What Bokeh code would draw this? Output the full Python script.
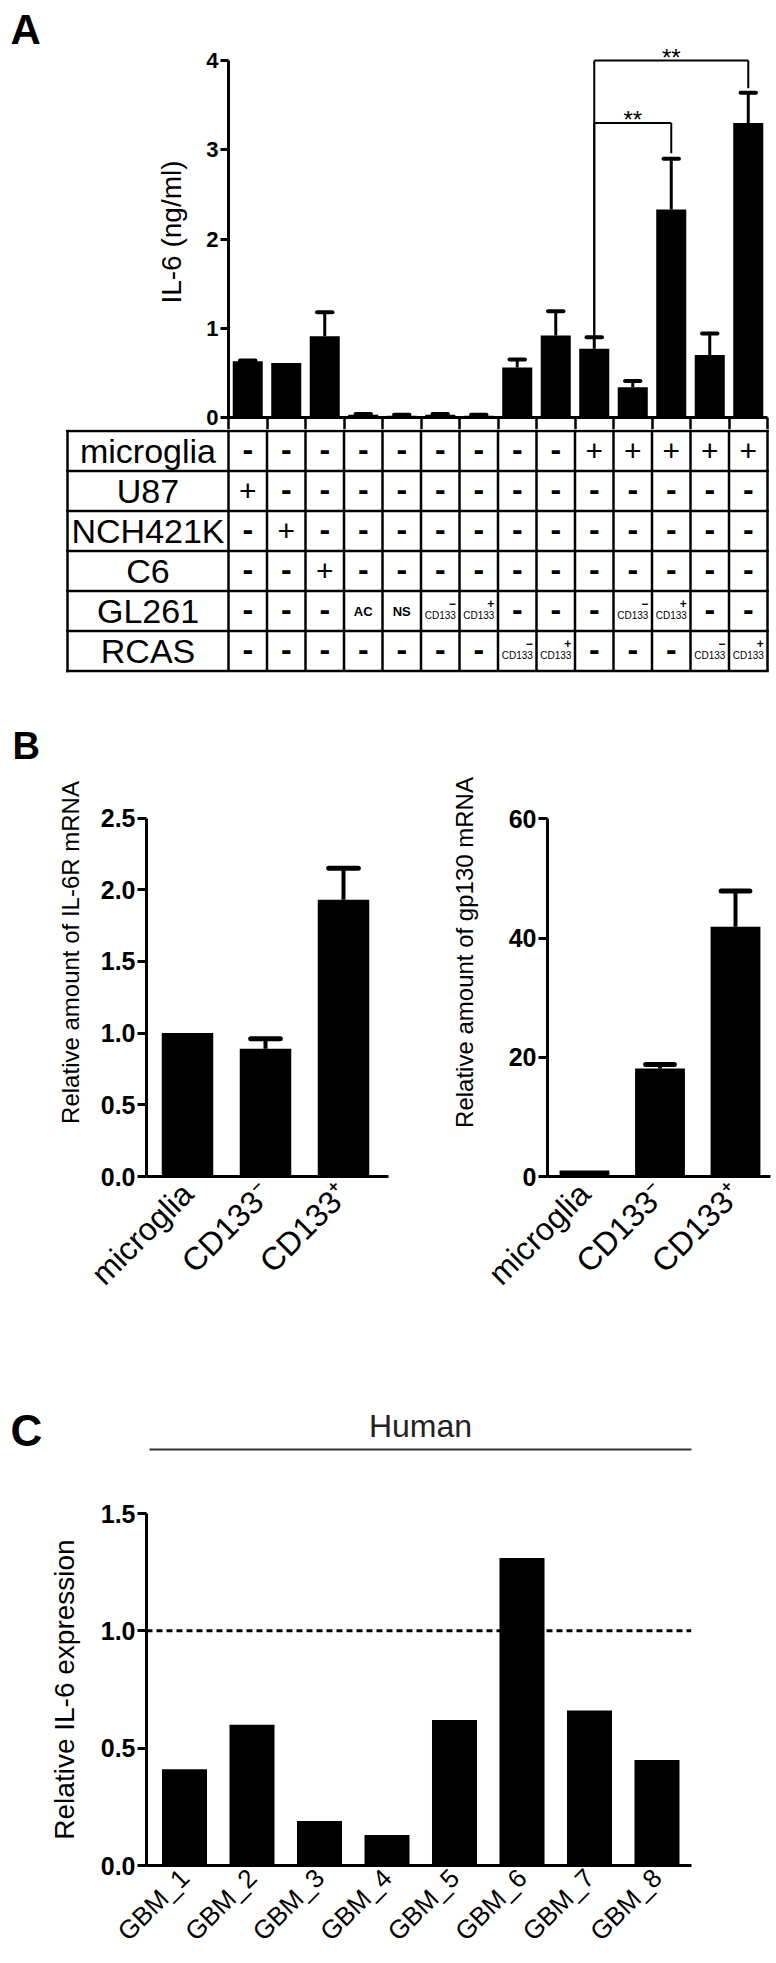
import math
from bokeh.plotting import figure
from bokeh.models import Range1d, FixedTicker, NumeralTickFormatter, Span
from bokeh.layouts import column, row
from bokeh.embed import file_html
from bokeh.resources import INLINE
from bokeh.core.properties import value

FONT = "Liberation Sans"

# ---------------- data ----------------
# Panel A : IL-6 (ng/ml), 14 culture conditions
a_il6 = [0.63, 0.61, 0.91, 0.03, 0.02, 0.03, 0.02, 0.56, 0.92, 0.77, 0.34, 2.33, 0.70, 3.30]
a_err = [0.01, 0.0, 0.27, 0.01, 0.01, 0.01, 0.01, 0.09, 0.27, 0.13, 0.07, 0.57, 0.24, 0.34]
a_ticks = [0, 1, 2, 3, 4]
table_rows = ["microglia", "U87", "NCH421K", "C6", "GL261", "RCAS"]
row_microglia = ["-", "-", "-", "-", "-", "-", "-", "-", "-", "+", "+", "+", "+", "+"]
row_u87 = ["+", "-", "-", "-", "-", "-", "-", "-", "-", "-", "-", "-", "-", "-"]
row_nch421k = ["-", "+", "-", "-", "-", "-", "-", "-", "-", "-", "-", "-", "-", "-"]
row_c6 = ["-", "-", "+", "-", "-", "-", "-", "-", "-", "-", "-", "-", "-", "-"]
row_gl261 = ["-", "-", "-", "AC", "NS", "CD133-", "CD133+", "-", "-", "-", "CD133-", "CD133+", "-", "-"]
row_rcas = ["-", "-", "-", "-", "-", "-", "-", "CD133-", "CD133+", "-", "-", "-", "CD133-", "CD133+"]
sig_from = [9, 9]
sig_to = [11, 13]
sig_level = [3.30, 4.0]
sig_drop = [2.96, 3.69]
sig_text = ["**", "**"]

# Panel B
b_cats = ["microglia", "CD133\u207b", "CD133\u207a"]
b_il6r = [1.0, 0.89, 1.93]
b_il6r_err = [0.0, 0.07, 0.22]
b_il6r_ticks = [0.0, 0.5, 1.0, 1.5, 2.0, 2.5]
b_gp130 = [1.0, 18.1, 41.9]
b_gp130_err = [0.0, 0.7, 6.0]
b_gp130_ticks = [0, 20, 40, 60]

# Panel C
c_samples = ["GBM_1", "GBM_2", "GBM_3", "GBM_4", "GBM_5", "GBM_6", "GBM_7", "GBM_8"]
c_il6 = [0.41, 0.60, 0.19, 0.13, 0.62, 1.31, 0.66, 0.45]
c_ref = 1.0
c_ticks = [0.0, 0.5, 1.0, 1.5]


# ---------------- helpers ----------------
def base_fig(width, height, xr, yr, left, right, top, bottom, axes=True):
    kw = {}
    if not axes:
        kw = dict(x_axis_location=None, y_axis_location=None)
    p = figure(width=width, height=height, x_range=xr, y_range=yr,
               output_backend="svg", toolbar_location=None,
               min_border_left=left, min_border_right=right,
               min_border_top=top, min_border_bottom=bottom, **kw)
    p.outline_line_color = None
    p.grid.visible = False
    p.background_fill_color = "white"
    p.border_fill_color = "white"
    return p


def letter_fig(width, height, letter, x, y_center_from_top, size):
    p = base_fig(width, height, Range1d(0, width), Range1d(0, height), 0, 0, 0, 0, axes=False)
    p.text(x=[x], y=[height - y_center_from_top], text=[letter], text_font=value(FONT),
           text_font_style="bold", text_font_size=size, text_align="left",
           text_baseline="middle", text_color="black")
    return p


def style_axis(ax, tick_size, tick_out, label_size=None, label_standoff=10):
    ax.axis_line_width = 3
    ax.axis_line_color = "black"
    ax.major_tick_line_width = 3
    ax.major_tick_line_color = "black"
    ax.major_tick_out = tick_out
    ax.major_tick_in = 0
    ax.minor_tick_line_color = None
    ax.major_label_text_font = FONT
    ax.major_label_text_font_style = "bold"
    ax.major_label_text_font_size = tick_size
    ax.major_label_text_color = "black"
    ax.major_label_standoff = 2
    ax.axis_label_text_font = FONT
    ax.axis_label_text_font_style = "normal"
    ax.axis_label_text_color = "black"
    if label_size:
        ax.axis_label_text_font_size = label_size
    ax.axis_label_standoff = label_standoff


def error_bars(p, xs, vals, errs, cap_half, stem_w, cap_w):
    sel = [i for i, e in enumerate(errs) if e > 0]
    x = [xs[i] for i in sel]
    lo = [vals[i] for i in sel]
    hi = [vals[i] + errs[i] for i in sel]
    p.segment(x0=x, y0=lo, x1=x, y1=hi, line_color="black", line_width=stem_w)
    p.segment(x0=[v - cap_half for v in x], y0=hi, x1=[v + cap_half for v in x], y1=hi,
              line_color="black", line_width=cap_w, line_cap="round")


W = 774

# ---------------- Panel A : bar chart ----------------
A_PX, A_PY = 38.5, 89.25
n_a = len(a_il6)
figAL = letter_fig(48, 429, "A", 10, 29, "42px")
figA = base_fig(W - 48, 429, Range1d(0, n_a), Range1d(0, 371 / A_PY), 180, 7, 46, 12)
a_x = [i + 0.5 for i in range(n_a)]
figA.vbar(x=a_x, width=0.78, top=a_il6, bottom=0, fill_color="black", line_color=None)
error_bars(figA, a_x, a_il6, a_err, 0.2, 3, 4)

a_top = [v + e for v, e in zip(a_il6, a_err)]
for f, t, lev, drop, txt in zip(sig_from, sig_to, sig_level, sig_drop, sig_text):
    figA.segment(x0=[a_x[f], a_x[f], a_x[t]], y0=[a_top[f], lev, lev],
                 x1=[a_x[f], a_x[t], a_x[t]], y1=[lev, lev, drop],
                 line_color="black", line_width=2)
    figA.text(x=[(a_x[f] + a_x[t]) / 2], y=[lev + 3.5 / A_PY], text=[txt],
              text_align="center", text_baseline="middle",
              text_font=value(FONT), text_font_size="24px", text_color="black")

style_axis(figA.yaxis[0], "22px", 8, "28px", 16)
figA.yaxis.ticker = FixedTicker(ticks=a_ticks)
figA.yaxis.bounds = (a_ticks[0], a_ticks[-1])
figA.yaxis.axis_label = "IL-6 (ng/ml)"
xa = figA.xaxis[0]
xa.axis_line_width = 3
xa.axis_line_color = "black"
xa.ticker = FixedTicker(ticks=[], minor_ticks=list(range(n_a + 1)))
xa.major_tick_out = 0
xa.major_tick_in = 0
xa.major_tick_line_color = None
xa.minor_tick_out = 12
xa.minor_tick_in = 0
xa.minor_tick_line_color = "black"
xa.minor_tick_line_width = 2.5
xa.major_label_standoff = 0

# ---------------- Panel A : condition table ----------------
cells = [row_microglia, row_u87, row_nch421k, row_c6, row_gl261, row_rcas]
n_r = len(table_rows)
lab_left = -161 / A_PX
T_TOP = n_r + 1.5 / 40
figT = base_fig(W, 263, Range1d(-228 / A_PX, (W - 228) / A_PX),
                Range1d(T_TOP - 263 / 40, T_TOP), 0, 0, 0, 0, axes=False)
figT.segment(x0=[lab_left] * (n_r + 1), y0=list(range(n_r + 1)),
             x1=[n_a] * (n_r + 1), y1=list(range(n_r + 1)),
             line_color="black", line_width=2.5, line_cap="square")
figT.segment(x0=list(range(n_a + 1)), y0=[0] * (n_a + 1),
             x1=list(range(n_a + 1)), y1=[T_TOP] * (n_a + 1),
             line_color="black", line_width=2.5)
figT.segment(x0=[lab_left], y0=[0], x1=[lab_left], y1=[n_r],
             line_color="black", line_width=2.5, line_cap="square")

figT.text(x=[lab_left / 2] * n_r, y=[n_r - r - 0.5 for r in range(n_r)], text=table_rows,
          text_font=value(FONT), text_font_size="34px", text_align="center",
          text_baseline="middle", text_color="black")

plus_x, plus_y, dash_x, dash_y = [], [], [], []
sm_x, sm_y, sm_t = [], [], []
cd_x, cd_y, sup_x, sup_y, sup_t = [], [], [], [], []
for r, cr in enumerate(cells):
    yc = n_r - r - 0.5
    for c, t in enumerate(cr):
        xc = c + 0.5
        if t == "+":
            plus_x.append(xc); plus_y.append(yc)
        elif t == "-":
            dash_x.append(xc); dash_y.append(yc + 0.06)
        elif t.startswith("CD133"):
            cd_x.append(xc); cd_y.append(yc - 0.1)
            sup_x.append(xc + 0.31); sup_y.append(yc + 0.2)
            sup_t.append("\u2212" if t.endswith("-") else "+")
        else:
            sm_x.append(xc); sm_y.append(yc); sm_t.append(t)

figT.text(x=plus_x, y=plus_y, text=["+"] * len(plus_x), text_font=value(FONT),
          text_font_size="30px", text_align="center", text_baseline="middle", text_color="black")
figT.text(x=dash_x, y=dash_y, text=["-"] * len(dash_x), text_font=value(FONT),
          text_font_style="bold", text_font_size="32px", text_align="center",
          text_baseline="middle", text_color="black")
figT.text(x=sm_x, y=sm_y, text=sm_t, text_font=value(FONT), text_font_style="bold",
          text_font_size="13px", text_align="center", text_baseline="middle", text_color="black")
figT.text(x=cd_x, y=cd_y, text=["CD133"] * len(cd_x), text_font=value(FONT),
          text_font_size="10px", text_align="center", text_baseline="middle", text_color="black")
figT.text(x=sup_x, y=sup_y, text=sup_t, text_font=value(FONT), text_font_style="bold",
          text_font_size="12px", text_align="center", text_baseline="middle", text_color="black")


# ---------------- Panel B ----------------
def panel_b(width, left, right, px, x0_px, left_px, right_px, py, vals, errs, ticks, fmt,
            ylabel, lab_standoff):
    fig = base_fig(width, 618, Range1d((left_px - x0_px) / px, (right_px - x0_px) / px),
                   Range1d(0, 448 / py), left, right, 36, 134)
    xs = list(range(len(vals)))
    fig.vbar(x=xs, width=0.66, top=vals, bottom=0, fill_color="black", line_color=None)
    error_bars(fig, xs, vals, errs, 0.19, 4, 5)
    style_axis(fig.yaxis[0], "25px", 9, "24px", lab_standoff)
    fig.yaxis.ticker = FixedTicker(ticks=ticks)
    fig.yaxis.formatter = NumeralTickFormatter(format=fmt)
    fig.yaxis.bounds = (ticks[0], ticks[-1])
    fig.yaxis.axis_label = ylabel
    style_axis(fig.xaxis[0], "32px", 0)
    fig.xaxis.major_tick_line_color = None
    fig.xaxis.major_label_text_font_style = "normal"
    fig.xaxis.ticker = FixedTicker(ticks=xs)
    fig.xaxis.major_label_overrides = {i: b_cats[i] for i in xs}
    fig.xaxis.major_label_orientation = math.pi / 4
    fig.xaxis.major_label_standoff = 12
    return fig


figBL = letter_fig(40, 618, "B", 12, 53, "38px")
figB1 = panel_b(360, 106, 12, 78, 187, 146, 388, 143.4, b_il6r, b_il6r_err, b_il6r_ticks,
                "0.0", "Relative amount of IL-6R mRNA", 14)
figB2 = panel_b(374, 147, 4, 75.5, 584, 547, 770, 5.96, b_gp130, b_gp130_err, b_gp130_ticks,
                "0", "Relative amount of gp130 mRNA", 28)

# ---------------- Panel C ----------------
C_PX = 67.5
C_X0 = 184
figCh = base_fig(W, 150, Range1d(-C_X0 / C_PX, (W - C_X0) / C_PX), Range1d(0, 150),
                 0, 0, 0, 0, axes=False)
figCh.text(x=[(10 - C_X0) / C_PX], y=[30], text=["C"], text_font=value(FONT),
           text_font_style="bold", text_font_size="44px", text_align="left",
           text_baseline="middle", text_color="black")
figCh.text(x=[(420 - C_X0) / C_PX], y=[34.5], text=["Human"], text_font=value(FONT),
           text_font_size="32px", text_align="center", text_baseline="middle",
           text_color="#222222")
figCh.segment(x0=[(149 - C_X0) / C_PX], y0=[11], x1=[(691 - C_X0) / C_PX], y1=[11],
              line_color="#333333", line_width=2)

n_c = len(c_il6)
c_x = list(range(n_c))
# chart: 1460 -> 1960 (frame 1513 -> 1868)
figC = base_fig(W, 500, Range1d((146 - C_X0) / C_PX, (691 - C_X0) / C_PX), Range1d(0, 1.5),
                146, 83, 53, 92)
figC.vbar(x=c_x, width=0.667, top=c_il6, bottom=0, fill_color="black", line_color=None)
figC.add_layout(Span(location=c_ref, dimension="width", line_color="black",
                     line_width=3, line_dash="6 4"))
style_axis(figC.yaxis[0], "25px", 9, "28px", 18)
figC.yaxis.ticker = FixedTicker(ticks=c_ticks)
figC.yaxis.formatter = NumeralTickFormatter(format="0.0")
figC.yaxis.bounds = (c_ticks[0], c_ticks[-1])
figC.yaxis.axis_label = "Relative IL-6 expression"
style_axis(figC.xaxis[0], "26px", 0)
figC.xaxis.major_tick_line_color = None
figC.xaxis.major_label_text_font_style = "normal"
figC.xaxis.ticker = FixedTicker(ticks=c_x)
figC.xaxis.major_label_overrides = {i: c_samples[i] for i in c_x}
figC.xaxis.major_label_orientation = math.pi / 4
figC.xaxis.major_label_standoff = 8

layout = column(
    row(column(figAL), column(figA), spacing=0),
    row(figT),
    row(column(figBL), column(figB1), column(figB2), spacing=0),
    row(figCh),
    row(figC),
    spacing=0,
)
open("out.html", "w").write(file_html(layout, INLINE))
